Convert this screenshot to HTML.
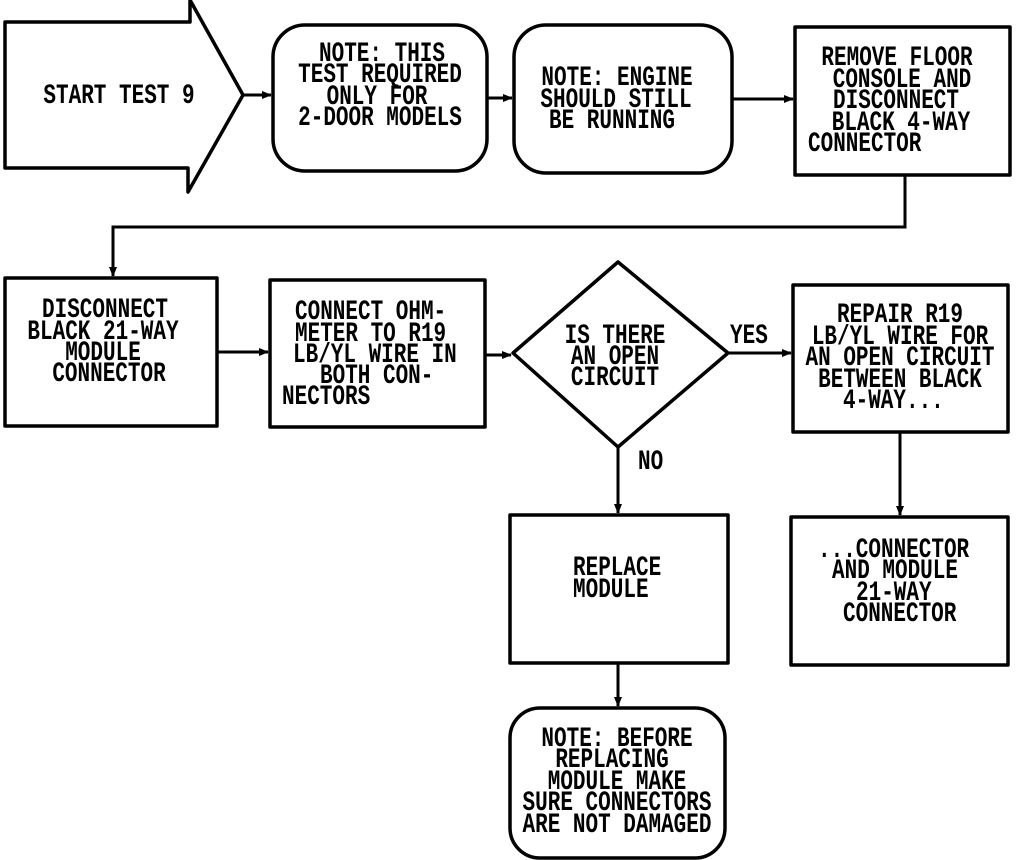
<!DOCTYPE html>
<html><head><meta charset="utf-8"><style>
html,body{margin:0;padding:0;background:#fff}
svg{display:block}
text{font-family:"Liberation Mono",monospace;font-weight:bold;font-size:21px;fill:#000}
</style></head><body>
<svg width="1024" height="860" viewBox="0 0 1024 860" xmlns="http://www.w3.org/2000/svg">
<defs><marker id="a" markerWidth="10" markerHeight="10" refX="9" refY="5" orient="auto" markerUnits="userSpaceOnUse"><path d="M0,1 L10,5 L0,9 z" fill="#000"/></marker></defs>
<g fill="none" stroke="#000" stroke-width="3.5" stroke-linejoin="round">
<path d="M5,22 L190,22 L190,0 L243,95 L188,192 L188,168 L5,168 Z"/>
<rect x="273" y="25" width="214" height="146" rx="32"/>
<rect x="514" y="25" width="218" height="148" rx="32"/>
<rect x="795" y="27" width="215" height="148"/>
<rect x="5" y="278" width="212" height="148"/>
<rect x="270" y="280" width="215" height="147"/>
<path d="M513,353 L618,262 L728,353 L618,447 Z"/>
<rect x="793" y="285" width="215" height="147"/>
<rect x="510" y="515" width="218" height="148"/>
<rect x="791" y="517" width="217" height="148"/>
<rect x="510" y="708" width="215" height="150" rx="30"/>
</g>
<g fill="none" stroke="#000" stroke-width="3">
<line x1="243" y1="95" x2="271" y2="95" marker-end="url(#a)"/>
<line x1="487" y1="98" x2="512" y2="98" marker-end="url(#a)"/>
<line x1="732" y1="99" x2="793" y2="99" marker-end="url(#a)"/>
<path d="M905,175 L905,227 L113,227 L113,276" marker-end="url(#a)"/>
<line x1="217" y1="352" x2="268" y2="352" marker-end="url(#a)"/>
<line x1="485" y1="355" x2="511" y2="355" marker-end="url(#a)"/>
<line x1="728" y1="353" x2="791" y2="353" marker-end="url(#a)"/>
<line x1="618" y1="447" x2="618" y2="513" marker-end="url(#a)"/>
<line x1="900" y1="432" x2="900" y2="515" marker-end="url(#a)"/>
<line x1="618" y1="663" x2="618" y2="706" marker-end="url(#a)"/>
</g>
<g text-anchor="middle">
<text transform="translate(119,103) scale(1,1.3)">START TEST 9</text>
<text transform="translate(382,61) scale(1,1.3)">NOTE: THIS</text>
<text transform="translate(380,82) scale(1,1.3)">TEST REQUIRED</text>
<text transform="translate(377,104) scale(1,1.3)">ONLY FOR</text>
<text transform="translate(380,125) scale(1,1.3)">2-DOOR MODELS</text>
<text transform="translate(617,85) scale(1,1.3)">NOTE: ENGINE</text>
<text transform="translate(616,107) scale(1,1.3)">SHOULD STILL</text>
<text transform="translate(612,128) scale(1,1.3)">BE RUNNING</text>
<text transform="translate(897,65) scale(1,1.3)">REMOVE FLOOR</text>
<text transform="translate(902,87) scale(1,1.3)">CONSOLE AND</text>
<text transform="translate(896,108) scale(1,1.3)">DISCONNECT</text>
<text transform="translate(901,130) scale(1,1.3)">BLACK 4-WAY</text>
<text transform="translate(105,317) scale(1,1.3)">DISCONNECT</text>
<text transform="translate(103,339) scale(1,1.3)">BLACK 21-WAY</text>
<text transform="translate(103,360) scale(1,1.3)">MODULE</text>
<text transform="translate(109,381) scale(1,1.3)">CONNECTOR</text>
<text transform="translate(615,343) scale(1,1.3)">IS THERE</text>
<text transform="translate(615,364) scale(1,1.3)">AN OPEN</text>
<text transform="translate(615,385) scale(1,1.3)">CIRCUIT</text>
<text transform="translate(900,322) scale(1,1.3)">REPAIR R19</text>
<text transform="translate(900,344) scale(1,1.3)">LB/YL WIRE FOR</text>
<text transform="translate(900,365) scale(1,1.3)">AN OPEN CIRCUIT</text>
<text transform="translate(900,387) scale(1,1.3)">BETWEEN BLACK</text>
<text transform="translate(617,746) scale(1,1.3)">NOTE: BEFORE</text>
<text transform="translate(612,767) scale(1,1.3)">REPLACING</text>
<text transform="translate(617,789) scale(1,1.3)">MODULE MAKE</text>
<text transform="translate(617,810) scale(1,1.3)">SURE CONNECTORS</text>
<text transform="translate(617,832) scale(1,1.3)">ARE NOT DAMAGED</text>
</g>
<g text-anchor="start">
<text transform="translate(808,151) scale(1,1.3)">CONNECTOR</text>
<text transform="translate(295,319) scale(1,1.3)">CONNECT OHM-</text>
<text transform="translate(295,341) scale(1,1.3)">METER TO R19</text>
<text transform="translate(293,362) scale(1,1.3)">LB/YL WIRE IN</text>
<text transform="translate(320,383) scale(1,1.3)">BOTH CON-</text>
<text transform="translate(282,404) scale(1,1.3)">NECTORS</text>
<text transform="translate(730,343) scale(1,1.3)">YES</text>
<text transform="translate(638,469) scale(1,1.3)">NO</text>
<text transform="translate(843,408) scale(1,1.3)">4-WAY...</text>
<text transform="translate(573,575) scale(1,1.3)">REPLACE</text>
<text transform="translate(573,597) scale(1,1.3)">MODULE</text>
<text transform="translate(818,557) scale(1,1.3)">...CONNECTOR</text>
<text transform="translate(832,578) scale(1,1.3)">AND MODULE</text>
<text transform="translate(856,600) scale(1,1.3)">21-WAY</text>
<text transform="translate(843,621) scale(1,1.3)">CONNECTOR</text>
</g>
</svg>
</body></html>
